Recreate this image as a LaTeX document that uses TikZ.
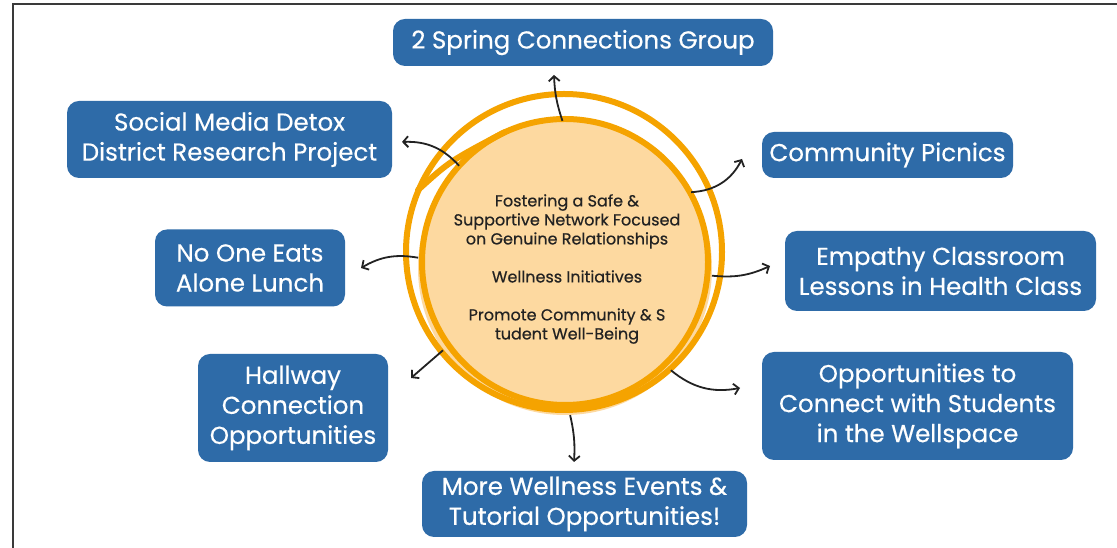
\documentclass[tikz,border=0pt]{standalone}
\usepackage{fontspec}
\setmainfont{Poppins}
\usetikzlibrary{arrows.meta}
\definecolor{boxblue}{HTML}{2E6BA8}
\definecolor{ring}{HTML}{F5A300}
\definecolor{peach}{HTML}{FDD9A0}
\definecolor{ink}{HTML}{222222}
\definecolor{framec}{HTML}{3A3A3A}
\begin{document}
\begin{tikzpicture}[x=1pt,y=1pt,
  bluebox/.style={rounded corners=12pt, fill=boxblue, text=white, align=center,
    font=\fontsize{24.5}{30}\selectfont\addfontfeature{FakeBold=0.4}, inner sep=0pt},
  arr/.style={draw=ink, line width=1.8pt, -{Straight Barb[length=5pt,width=11pt]}},
  ringline/.style={draw=ring, line width=6pt},
  hubtext/.style={text=ink, align=center, font=\fontsize{16}{19}\selectfont\addfontfeature{FakeBold=0.5}}
]
\useasboundingbox (0,0) rectangle (1117,548);
\fill[white] (0,0) rectangle (1117,548);
\draw[framec, line width=2pt] (13,0) -- (13,544) -- (1117,544);

% boxes
\node[bluebox, minimum width=380pt, minimum height=47pt] (spring) at (583,505.5) {2 Spring Connections Group};
\node[bluebox, minimum width=325pt, minimum height=77pt] (social) at (229.5,408.5) {Social Media Detox\\District Research Project};
\node[bluebox, minimum width=251pt, minimum height=46pt] (picnic) at (887.5,393) {Community Picnics};
\node[bluebox, minimum width=190pt, minimum height=77pt] (noone) at (250,280) {No One Eats\\Alone Lunch};
\node[bluebox, minimum width=311pt, minimum height=80pt] (empathy) at (940.5,277) {Empathy Classroom\\Lessons in Health Class};
\node[bluebox, minimum width=311pt, minimum height=108pt] (opps) at (917.5,142) {Opportunities to\\Connect with Students\\in the Wellspace};
\node[bluebox, minimum width=190pt, minimum height=108pt] (hall) at (293,140) {Hallway\\Connection\\Opportunities};
\node[bluebox, minimum width=325pt, minimum height=66pt] (events) at (584.5,44) {More Wellness Events \&\\Tutorial Opportunities!};

% hub
\node[circle, fill=peach, minimum size=294pt, inner sep=0pt] (hub) at (565,280) {};
\draw[ringline] (564,296) circle[radius=158];
\draw[ringline] (565,286) circle[radius=143];
\draw[ringline, line cap=round] (418,358) .. controls (450,387) .. (505,416);
\node[hubtext] (hubtxt) at (567,279) {Fostering a Safe \&\\Supportive Network Focused\\on Genuine Relationships\\[19pt]Wellness Initiatives\\[19pt]Promote Community \& S\\tudent Well-Being};

% arrow tips
\coordinate (t1) at (554,473);
\coordinate (t2) at (402,406);
\coordinate (t3) at (742,389);
\coordinate (t4) at (770,282);
\coordinate (t5) at (740,160);
\coordinate (t6) at (574,86);
\coordinate (t7) at (411,170);
\coordinate (t8) at (361,280);

\draw[arr] (hub.91) to[bend left=8] (t1);
\draw[arr] (hub.136) to[bend right=25] (t2);
\draw[arr] (hub.31) to[bend right=30] (t3);
\draw[arr] (hub.-3) to[bend right=15] (t4);
\draw[arr] (hub.-44) to[bend right=25] (t5);
\draw[arr] (hub.-88) to[bend left=8] (t6);
\draw[arr] (hub.-146) to (t7);
\draw[arr] (hub.176) to[bend right=20] (t8);
\end{tikzpicture}
\end{document}
